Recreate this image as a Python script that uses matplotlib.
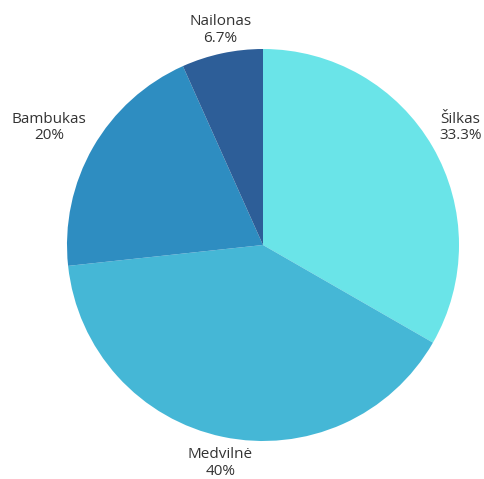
import numpy as np
import matplotlib.pyplot as plt

# fabric shares, clockwise from the top
fabrics = ['Šilkas', 'Medvilnė', 'Bambukas', 'Nailonas']
shares = [33.3, 40, 20, 6.7]
share_labels = ['33.3%', '40%', '20%', '6.7%']
colors = ['#6ae4e8', '#45b7d6', '#2e8dc1', '#2d5e98']

plt.rcParams['font.family'] = ['Open Sans', 'DejaVu Sans']

fig = plt.figure(figsize=(4.85, 4.79), dpi=100)
fig.patch.set_facecolor('white')

cx, cy, r = 263, 479 - 245, 196
ax = fig.add_axes([(cx - r) / 485, (cy - r) / 479, 2 * r / 485, 2 * r / 479])
wedges, _ = ax.pie(shares, colors=colors, startangle=90, counterclock=False,
                   radius=1, wedgeprops=dict(linewidth=0))
ax.set_xlim(-1, 1)
ax.set_ylim(-1, 1)
ax.set_aspect('equal')
ax.axis('off')

# labels sit just outside each wedge, aligned away from the pie
for w, name, lab in zip(wedges, fabrics, share_labels):
    mid = np.deg2rad((w.theta1 + w.theta2) / 2)
    c, s = np.cos(mid), np.sin(mid)
    ha = 'center' if abs(c) < 0.3 else ('left' if c > 0 else 'right')
    va = 'bottom' if s > 0 else 'top'
    d = 1.04 if s > 0 else 1.055
    ax.text(d * c, d * s, f'{name}\n{lab}', ha=ha, va=va,
            multialignment='center', fontsize=11, color='#333333',
            linespacing=1.12, clip_on=False)

fig.savefig('out.png', dpi=100)
